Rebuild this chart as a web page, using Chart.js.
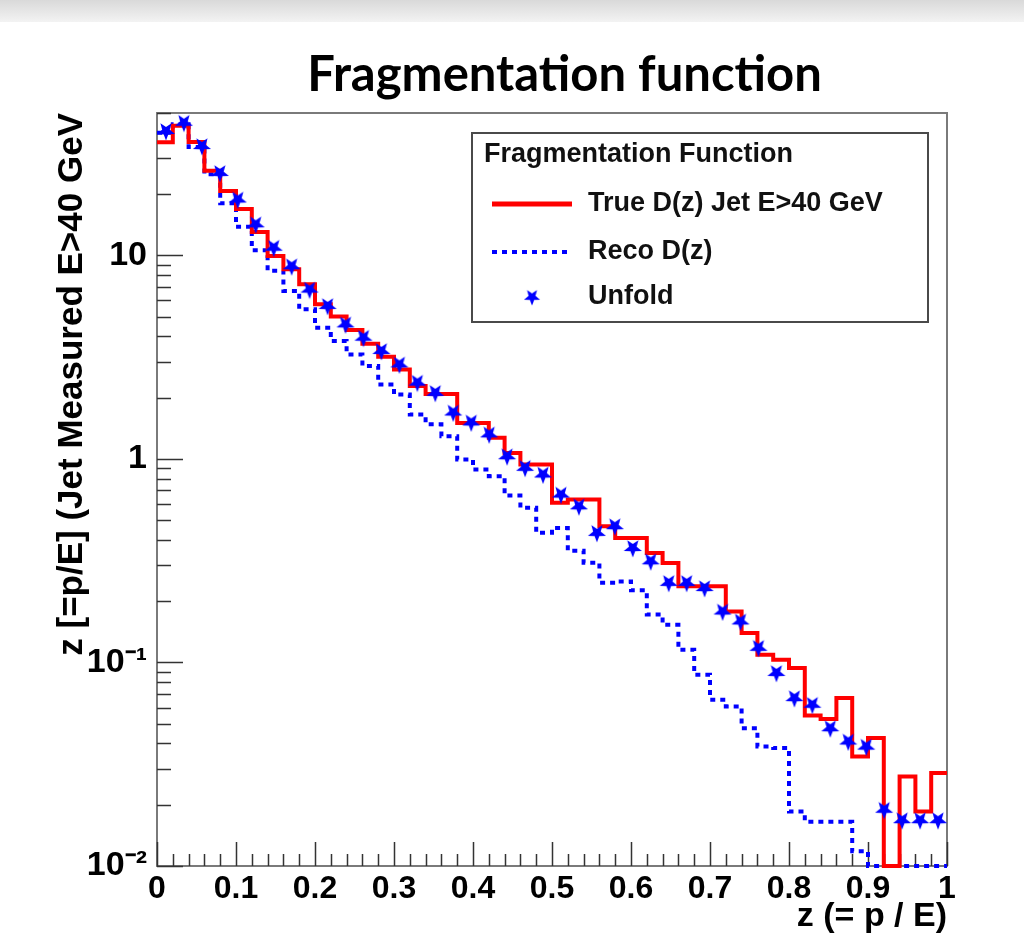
<!DOCTYPE html>
<html>
<head>
<meta charset="utf-8">
<title>Fragmentation function</title>
<script src="https://cdn.jsdelivr.net/npm/chart.js@4.4.0/dist/chart.umd.min.js"></script>
<style>
  body { margin: 0; background: #fff; }
  #wrap { position: relative; width: 1024px; height: 943px; overflow: hidden; }
  #topbar { position: absolute; left: 0; top: 0; width: 1024px; height: 22px; background: linear-gradient(#d9d9d9, #f3f3f3); }
  #slideTitle { position: absolute; left: 0; width: 1129px; top: 43px; text-align: center;
                font-family: Lato, "Open Sans", sans-serif; font-weight: bold; font-size: 49px; color: #000; }
  #chart { position: absolute; left: 0; top: 0; }
</style>
</head>
<body>
<div id="wrap">
  <div id="topbar"></div>
  <div id="slideTitle">Fragmentation function</div>
  <canvas id="chart" width="1024" height="943"></canvas>
</div>
<script>
/***************************************************/
/********************** DATA ***********************/
/***************************************************/

// True D(z), 50 bins of width 0.02 in z
const trueValues = [35.9, 43.3, 36.0, 26.0, 20.7, 16.9, 13.0, 9.93, 8.55, 7.2,
                    5.75, 5.0, 4.3, 3.68, 3.17, 2.75, 2.28, 2.08, 2.08, 1.5,
                    1.5, 1.27, 1.07, 0.938, 0.938, 0.608, 0.631, 0.631, 0.467, 0.409,
                    0.409, 0.345, 0.308, 0.2365, 0.2365, 0.2365, 0.178, 0.1396, 0.109, 0.103,
                    0.0939, 0.0548, 0.0527, 0.0668, 0.0345, 0.0425, 0, 0.0275, 0.0185, 0.0286];

// Reco D(z), same 50 bins
const recoValues = [40, 44, 34, 25, 18, 13.8, 10.6, 8.4, 6.68, 5.43,
                    4.41, 3.79, 3.26, 2.86, 2.32, 2.07, 1.65, 1.48, 1.29, 0.993,
                    0.887, 0.822, 0.661, 0.575, 0.433, 0.458, 0.354, 0.309, 0.246, 0.25,
                    0.226, 0.172, 0.153, 0.1155, 0.087, 0.0655, 0.0608, 0.0475, 0.0386, 0.038,
                    0.0185, 0.0165, 0.0165, 0.0165, 0.0118, 0, 0, 0, 0, 0];

// Unfold, 44 bins between 0 and 1
const unfoldValues = [40.8, 44.8, 34.4, 25.4, 18.8, 14.2, 10.9, 8.84, 6.79, 5.64,
                      4.58, 3.94, 3.39, 2.91, 2.37, 2.11, 1.69, 1.51, 1.32, 1.03,
                      0.904, 0.838, 0.668, 0.585, 0.433, 0.467, 0.365, 0.314, 0.246, 0.246,
                      0.232, 0.178, 0.159, 0.118, 0.0888, 0.0668, 0.062, 0.0475, 0.0409, 0.0386,
                      0.0189, 0.0168, 0.0168, 0.0168];

const seriesLabels = ['True D(z) Jet E>40 GeV', 'Reco D(z)', 'Unfold'];
const legendHeader = 'Fragmentation Function';

const xTickValues = [0, 0.1, 0.2, 0.3, 0.4, 0.5, 0.6, 0.7, 0.8, 0.9, 1];
const xTickLabels = ['0', '0.1', '0.2', '0.3', '0.4', '0.5', '0.6', '0.7', '0.8', '0.9', '1'];
const yTickValues = [0.01, 0.1, 1, 10];
const yTickLabels = ['10\u207B\u00B2', '10\u207B\u00B9', '1', '10'];
const yMin = 0.01, yMax = 50;

const xTitle = 'z (= p / E)';
const yTitle = 'z [=p/E] (Jet Measured E>40 GeV';


/***************************************************/
/******************** HELPERS **********************/
/***************************************************/
const rootFont = '"Liberation Sans", Arial, sans-serif';

// histogram -> step points at the bin edges (last value repeated at z = 1)
// empty bins sit on the axis floor, as ROOT draws them
function histPoints(values) {
    const n = values.length;
    const pts = values.map((v, i) => ({ x: i / n, y: v > 0 ? v : yMin }));
    pts.push({ x: 1, y: pts[n - 1].y });
    return pts;
}

// histogram -> marker points at the bin centres
function centrePoints(values) {
    const n = values.length;
    return values.map((v, i) => ({ x: (i + 0.5) / n, y: v }));
}

// filled star marker, one tip pointing down
function makeStar(size, color) {
    const c = document.createElement('canvas');
    c.width = size;
    c.height = size;
    const g = c.getContext('2d');
    const ro = size / 2 - 0.5, ri = ro * 0.42;
    g.beginPath();
    for (let i = 0; i < 10; i++) {
        const r = (i % 2 === 0) ? ro : ri;
        const a = Math.PI / 2 + i * Math.PI / 5;
        g.lineTo(size / 2 + r * Math.cos(a), size / 2 + r * Math.sin(a));
    }
    g.closePath();
    g.fillStyle = color;
    g.fill();
    return c;
}

const starMarker = makeStar(20, '#0000ff');


/***************************************************/
/*************** FRAME, TICKS, LEGEND **************/
/***************************************************/
const rootFramePlugin = {
    id: 'rootFrame',
    // frame and ticks go under the histograms, like ROOT
    beforeDatasetsDraw(chart) {
        const ctx = chart.ctx;
        const a = chart.chartArea;
        const xs = chart.scales.x, ys = chart.scales.y;

        ctx.save();
        ctx.strokeStyle = '#7a7a7a';
        ctx.lineWidth = 2;
        ctx.strokeRect(a.left, a.top, a.right - a.left, a.bottom - a.top);

        // ticks pointing inwards
        ctx.strokeStyle = '#333';
        ctx.lineWidth = 1.5;
        ctx.beginPath();
        for (let k = 0; k <= 50; k++) {
            const px = Math.round(xs.getPixelForValue(k / 50)) + 0.5;
            const len = (k % 5 === 0) ? 24 : 12;
            ctx.moveTo(px, a.bottom);
            ctx.lineTo(px, a.bottom - len);
        }
        yTickValues.forEach(d => {
            for (let m = 1; m <= 9; m++) {
                const v = m * d;
                if (v > ys.max) break;
                const py = Math.round(ys.getPixelForValue(v)) + 0.5;
                const len = (m === 1) ? 26 : 14;
                ctx.moveTo(a.left, py);
                ctx.lineTo(a.left + len, py);
            }
        });
        ctx.stroke();
        ctx.restore();
    },
    afterDraw(chart) {
        const ctx = chart.ctx;
        const ds = chart.data.datasets;
        const box = { x: 472, y: 133, w: 456, h: 189 };

        ctx.save();
        ctx.fillStyle = '#fff';
        ctx.fillRect(box.x, box.y, box.w, box.h);
        ctx.strokeStyle = '#4a4a4a';
        ctx.lineWidth = 2;
        ctx.strokeRect(box.x, box.y, box.w, box.h);

        ctx.fillStyle = '#111';
        ctx.textBaseline = 'middle';
        ctx.font = 'bold 27px ' + rootFont;
        ctx.fillText(legendHeader, 484, 155);

        // red line
        ctx.strokeStyle = ds[0].borderColor;
        ctx.lineWidth = 5;
        ctx.beginPath();
        ctx.moveTo(492, 204);
        ctx.lineTo(572, 204);
        ctx.stroke();

        // dotted blue line
        ctx.strokeStyle = ds[1].borderColor;
        ctx.lineWidth = 4;
        ctx.setLineDash([5, 5]);
        ctx.beginPath();
        ctx.moveTo(492, 252);
        ctx.lineTo(572, 252);
        ctx.stroke();
        ctx.setLineDash([]);

        // star marker
        ctx.drawImage(starMarker, 532 - 9, 297 - 9, 18, 18);

        ctx.fillStyle = '#111';
        ctx.fillText(ds[0].label, 588, 204);
        ctx.fillText(ds[1].label, 588, 252);
        ctx.fillText(ds[2].label, 588, 297);
        ctx.restore();
    }
};


/***************************************************/
/****************** DRAWING CHART ******************/
/***************************************************/
function drawFragmentationChart(chartId) {

    // define data for chart
    var data = {
        datasets: [{
            label: seriesLabels[0],
            data: histPoints(trueValues),
            borderColor: '#ff0000',
            borderWidth: 4,
            stepped: 'before',
            pointRadius: 0,
            fill: false,
            clip: 3,
            order: 1
        }, {
            label: seriesLabels[1],
            data: histPoints(recoValues),
            borderColor: '#0000ff',
            borderWidth: 4,
            borderDash: [5, 5],
            stepped: 'before',
            pointRadius: 0,
            fill: false,
            clip: 3,
            order: 2
        }, {
            type: 'scatter',
            label: seriesLabels[2],
            data: centrePoints(unfoldValues),
            pointStyle: starMarker,
            pointRadius: 10,
            showLine: false,
            order: 0
        }]
    };

    // define options for chart
    var options = {
        responsive: false,
        animation: false,
        devicePixelRatio: 1,
        layout: {
            padding: { top: 113, right: 77, left: 0, bottom: 0 }
        },
        plugins: {
            legend: { display: false },
            tooltip: { enabled: false }
        },
        scales: {
            x: {
                type: 'linear',
                min: 0,
                max: 1,
                grid: { display: false, drawTicks: false },
                border: { display: false },
                afterBuildTicks: s => { s.ticks = xTickValues.map(v => ({ value: v })); },
                afterFit: s => { s.height = 77; },
                ticks: {
                    autoSkip: false,
                    maxRotation: 0,
                    padding: 4,
                    color: '#000',
                    font: { family: rootFont, size: 32, weight: 'bold' },
                    callback: (v) => xTickLabels[xTickValues.indexOf(v)]
                },
                title: {
                    display: true,
                    text: xTitle,
                    align: 'end',
                    color: '#000',
                    padding: { top: 0, bottom: 6 },
                    font: { family: rootFont, size: 34, weight: 'bold' }
                }
            },
            y: {
                type: 'logarithmic',
                min: yMin,
                max: yMax,
                grid: { display: false, drawTicks: false },
                border: { display: false },
                afterBuildTicks: s => { s.ticks = yTickValues.map(v => ({ value: v })); },
                afterFit: s => { s.width = 157; },
                ticks: {
                    autoSkip: false,
                    padding: 10,
                    color: '#000',
                    font: { family: rootFont, size: 34, weight: 'bold' },
                    callback: (v) => yTickLabels[yTickValues.indexOf(v)]
                },
                title: {
                    display: true,
                    text: yTitle,
                    align: 'end',
                    color: '#000',
                    padding: { top: 51, bottom: 0 },
                    font: { family: rootFont, size: 35, weight: 'bold' }
                }
            }
        }
    };

    // Get the canvas element and create the chart
    const ctx = document.getElementById(chartId).getContext('2d');
    const fragChart = new Chart(ctx, {
        type: 'line',
        data: data,
        options: options,
        plugins: [rootFramePlugin]
    });
}

drawFragmentationChart('chart');
</script>
</body>
</html>
